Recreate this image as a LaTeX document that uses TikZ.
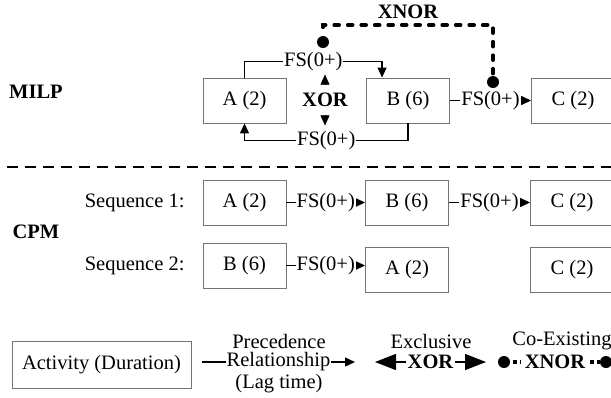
\documentclass[tikz,border=0pt]{standalone}
\usepackage{fontspec}
\setmainfont{Liberation Serif}
\usetikzlibrary{arrows.meta,calc}
\begin{document}
\begin{tikzpicture}[x=1pt,y=-1pt,
  every node/.style={font=\fontsize{20.5}{24}\selectfont},
  actbox/.style={draw=black!55, line width=0.9pt, minimum width=83pt, minimum height=45pt, inner sep=0pt},
  conn/.style={line width=1.4pt, -{Triangle[length=10pt,width=9pt]}},
  lbl/.style={fill=white, inner sep=1pt},
  tag/.style={font=\fontsize{20.5}{24}\selectfont\bfseries},
  xdot/.style={circle, fill=black, minimum size=12pt, inner sep=0pt},
  xnorl/.style={line width=3.5pt, line cap=round, dash pattern=on 5pt off 8.5pt, dash phase=5pt},
  sepline/.style={line width=1.3pt, dash pattern=on 11pt off 7pt},
  xorarrow/.style={line width=1.4pt, {Triangle[length=21pt,width=16pt]}-{Triangle[length=21pt,width=16pt]}},
]
\useasboundingbox (0,0) rectangle (611,397);

% ---------- MILP ----------
\node[tag] (milp) at (36,92) {MILP};
\node[actbox] (mA) at (244.5,100.5) {A (2)};
\node[actbox] (mB) at (408,100.5) {B (6)};
\node[actbox] (mC) at (573,100.5) {C (2)};

\draw[conn] (mA.north) |- node[lbl,pos=0.75] {FS(0+)} ($(mB.north west)+(16,-16)$) -- ($(mB.north west)+(16,0)$);
\draw[conn] (mB.south) |- node[lbl,pos=0.75] {FS(0+)} ($(mA.south)+(0,17)$) -- (mA.south);
\draw[conn] (mB.east) -- node[lbl] {FS(0+)} (mC.west);

% XOR between A and B
\node[tag] (xor) at (325,100) {XOR};
\draw[line width=0.4pt, -{Triangle[length=10pt,width=9pt]}] ($(xor.north)+(0,-5)$) -- ++(0,-10);
\draw[line width=0.4pt, -{Triangle[length=10pt,width=9pt]}] ($(xor.south)+(0,5)$) -- ++(0,10);

% XNOR between the top link and B -> C
\node[xdot] (d1) at (323,42) {};
\node[xdot] (d2) at (493,82) {};
\coordinate (xc1) at (323,25);
\coordinate (xc2) at (493,25);
\draw[xnorl] (d1) -- (xc1) -- node[tag, above=1pt] {XNOR} (xc2) -- (d2);

% ---------- separator ----------
\coordinate (s1) at (7,167);
\coordinate (s2) at (611,167);
\draw[sepline] (s1) -- (s2);

% ---------- CPM ----------
\node[tag] (cpm) at (36,232) {CPM};
\node[anchor=east] (seq1) at (188,202.5) {Sequence 1:};
\node[anchor=east] (seq2) at (188,265.5) {Sequence 2:};

\node[actbox] (c1A) at (244.5,202.5) {A (2)};
\node[actbox] (c1B) at (407,202.5) {B (6)};
\node[actbox] (c1C) at (572,202.5) {C (2)};
\draw[conn] (c1A.east) -- node[lbl] {FS(0+)} (c1B.west);
\draw[conn] (c1B.east) -- node[lbl] {FS(0+)} (c1C.west);

\node[actbox] (c2B) at (244.5,265.5) {B (6)};
\node[actbox] (c2A) at (407,269.5) {A (2)};
\node[actbox] (c2C) at (572,269.5) {C (2)};
\draw[conn] (c2B.east) -- node[lbl] {FS(0+)} (c2B.east -| c2A.west);

% ---------- legend ----------
\node[actbox, minimum width=179pt, minimum height=47pt] (lact) at (101.5,365) {Activity (Duration)};

\node (lprec) at (279,341) {Precedence};
\coordinate (p1) at (202,362);
\coordinate (p2) at (355,362);
\draw[conn] (p1) -- node[lbl] {Relationship} (p2);
\node (llag) at (279,384) {(Lag time)};

\node (lexc) at (431,341) {Exclusive};
\coordinate (e1) at (375,362);
\coordinate (e2) at (486,362);
\draw[xorarrow] (e1) -- node[tag, lbl, inner sep=2pt] {XOR} (e2);

\node (lco) at (562,341) {Co-Existing};
\node[xdot] (ld1) at (504,362) {};
\node[xdot] (ld2) at (606,362) {};
\draw[line width=3.5pt, dash pattern=on 4pt off 3pt, dash phase=4pt] (ld1) -- node[tag, lbl, inner sep=4pt] {XNOR} (ld2);
\end{tikzpicture}
\end{document}
